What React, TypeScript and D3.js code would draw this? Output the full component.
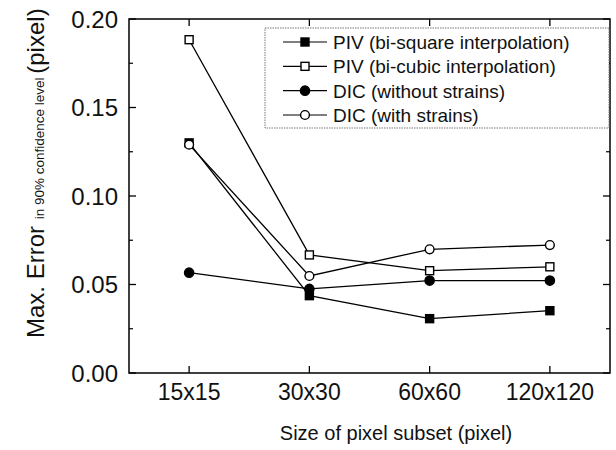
import * as d3 from "d3";
import { useEffect, useRef } from "react";

const categories = ["15x15", "30x30", "60x60", "120x120"];

// values (pixel)
const pivBiSquare = [0.13, 0.0437, 0.0307, 0.0352];
const pivBiCubic = [0.1883, 0.0667, 0.0578, 0.06];
const dicWithout = [0.0567, 0.0475, 0.0522, 0.0522];
const dicWith = [0.129, 0.0548, 0.0699, 0.0723];

const yTicks = [0, 0.05, 0.1, 0.15, 0.2];
const yMinorTicks = [0.025, 0.075, 0.125, 0.175];

const seriesNames = [
  "PIV (bi-square interpolation)",
  "PIV (bi-cubic interpolation)",
  "DIC (without strains)",
  "DIC (with strains)",
];

const FONT = "'Liberation Sans', Arial, Helvetica, sans-serif";

type Marker = "filledSquare" | "openSquare" | "filledCircle" | "openCircle";

const series: { name: string; values: number[]; marker: Marker }[] = [
  { name: seriesNames[0], values: pivBiSquare, marker: "filledSquare" },
  { name: seriesNames[1], values: pivBiCubic, marker: "openSquare" },
  { name: seriesNames[2], values: dicWithout, marker: "filledCircle" },
  { name: seriesNames[3], values: dicWith, marker: "openCircle" },
];

// drawing order so the open circle at 15x15 sits on top
const drawOrder = [0, 2, 1, 3];

function drawMarker(
  g: d3.Selection<SVGGElement, unknown, null, undefined>,
  cx: number,
  cy: number,
  marker: Marker
) {
  const filled = marker === "filledSquare" || marker === "filledCircle";
  if (marker === "filledSquare" || marker === "openSquare") {
    const s = 8;
    g.append("rect")
      .attr("x", cx - s / 2)
      .attr("y", cy - s / 2)
      .attr("width", s)
      .attr("height", s)
      .attr("fill", filled ? "#000" : "#fff")
      .attr("stroke", "#000")
      .attr("stroke-width", 1.4);
  } else {
    g.append("circle")
      .attr("cx", cx)
      .attr("cy", cy)
      .attr("r", filled ? 4.6 : 4.4)
      .attr("fill", filled ? "#000" : "#fff")
      .attr("stroke", "#000")
      .attr("stroke-width", 1.4);
  }
}

export default function App() {
  const svgRef = useRef<SVGSVGElement>(null);
  const width = 616;
  const height = 450;
  const left = 129;
  const right = 610;
  const top = 19;
  const bottom = 373;

  useEffect(() => {
    if (!svgRef.current) return;
    const svg = d3.select(svgRef.current);
    svg.selectAll("*").remove();

    const x = d3.scalePoint<string>().domain(categories).range([left, right]).padding(0.5);
    const y = d3.scaleLinear().domain([0, 0.2]).range([bottom, top]);

    const root = svg.append("g");

    // frame
    root
      .append("rect")
      .attr("x", left)
      .attr("y", top)
      .attr("width", right - left)
      .attr("height", bottom - top)
      .attr("fill", "none")
      .attr("stroke", "#000")
      .attr("stroke-width", 1.5);

    // y ticks (inward, both sides)
    const major = 7;
    const minor = 4;
    yTicks.forEach((t) => {
      root.append("line").attr("x1", left).attr("x2", left + major).attr("y1", y(t)).attr("y2", y(t)).attr("stroke", "#000").attr("stroke-width", 1.3);
      root.append("line").attr("x1", right).attr("x2", right - major).attr("y1", y(t)).attr("y2", y(t)).attr("stroke", "#000").attr("stroke-width", 1.3);
      root
        .append("text")
        .attr("x", left - 11)
        .attr("y", y(t))
        .attr("dy", "0.36em")
        .attr("text-anchor", "end")
        .attr("font-family", FONT)
        .attr("font-size", 24)
        .attr("fill", "#111")
        .text(d3.format(".2f")(t));
    });
    yMinorTicks.forEach((t) => {
      root.append("line").attr("x1", left).attr("x2", left + minor).attr("y1", y(t)).attr("y2", y(t)).attr("stroke", "#000").attr("stroke-width", 1.2);
      root.append("line").attr("x1", right).attr("x2", right - minor).attr("y1", y(t)).attr("y2", y(t)).attr("stroke", "#000").attr("stroke-width", 1.2);
    });

    // x ticks (inward, top and bottom)
    categories.forEach((c) => {
      const cx = x(c)!;
      root.append("line").attr("x1", cx).attr("x2", cx).attr("y1", bottom).attr("y2", bottom - major).attr("stroke", "#000").attr("stroke-width", 1.3);
      root.append("line").attr("x1", cx).attr("x2", cx).attr("y1", top).attr("y2", top + major).attr("stroke", "#000").attr("stroke-width", 1.3);
      root
        .append("text")
        .attr("x", cx)
        .attr("y", 400)
        .attr("text-anchor", "middle")
        .attr("font-family", FONT)
        .attr("font-size", 23)
        .attr("fill", "#111")
        .text(c);
    });

    // axis titles
    root
      .append("text")
      .attr("x", 396)
      .attr("y", 440)
      .attr("text-anchor", "middle")
      .attr("font-family", FONT)
      .attr("font-size", 20)
      .attr("fill", "#111")
      .text("Size of pixel subset (pixel)");

    const yt = root
      .append("text")
      .attr("transform", "translate(44,338) rotate(-90)")
      .attr("text-anchor", "start")
      .attr("font-family", FONT)
      .attr("fill", "#111");
    yt.append("tspan").attr("font-size", 24).text("Max. Error ");
    yt.append("tspan").attr("font-size", 13.5).text("in 90% confidence level ");
    yt.append("tspan").attr("font-size", 24).text("(pixel)");

    // lines
    const line = d3
      .line<number>()
      .x((_, i) => x(categories[i])!)
      .y((d) => y(d));

    drawOrder.forEach((k) => {
      root
        .append("path")
        .datum(series[k].values)
        .attr("fill", "none")
        .attr("stroke", "#000")
        .attr("stroke-width", 1.3)
        .attr("d", line);
    });

    // markers
    const mg = root.append("g");
    drawOrder.forEach((k) => {
      series[k].values.forEach((v, i) => {
        drawMarker(mg, x(categories[i])!, y(v), series[k].marker);
      });
    });

    // legend
    const lg = root.append("g");
    lg.append("rect")
      .attr("x", 265)
      .attr("y", 28)
      .attr("width", 344)
      .attr("height", 100)
      .attr("fill", "#fff")
      .attr("stroke", "#777")
      .attr("stroke-width", 1)
      .attr("stroke-dasharray", "1.5,1");
    const rowY = d3.scalePoint<string>().domain(seriesNames).range([42, 115]);
    series.forEach((s) => {
      const ry = rowY(s.name)!;
      lg.append("line").attr("x1", 283).attr("x2", 327).attr("y1", ry).attr("y2", ry).attr("stroke", "#000").attr("stroke-width", 1.2);
      drawMarker(lg, 305, ry, s.marker);
      lg.append("text")
        .attr("x", 333)
        .attr("y", ry)
        .attr("dy", "0.36em")
        .attr("font-family", FONT)
        .attr("font-size", 19)
        .attr("fill", "#111")
        .text(s.name);
    });
  }, []);

  return (
    <svg
      ref={svgRef}
      width={width}
      height={height}
      viewBox={`0 0 ${width} ${height}`}
      style={{ position: "absolute", left: 0, top: 0, display: "block", background: "#fff" }}
    />
  );
}
